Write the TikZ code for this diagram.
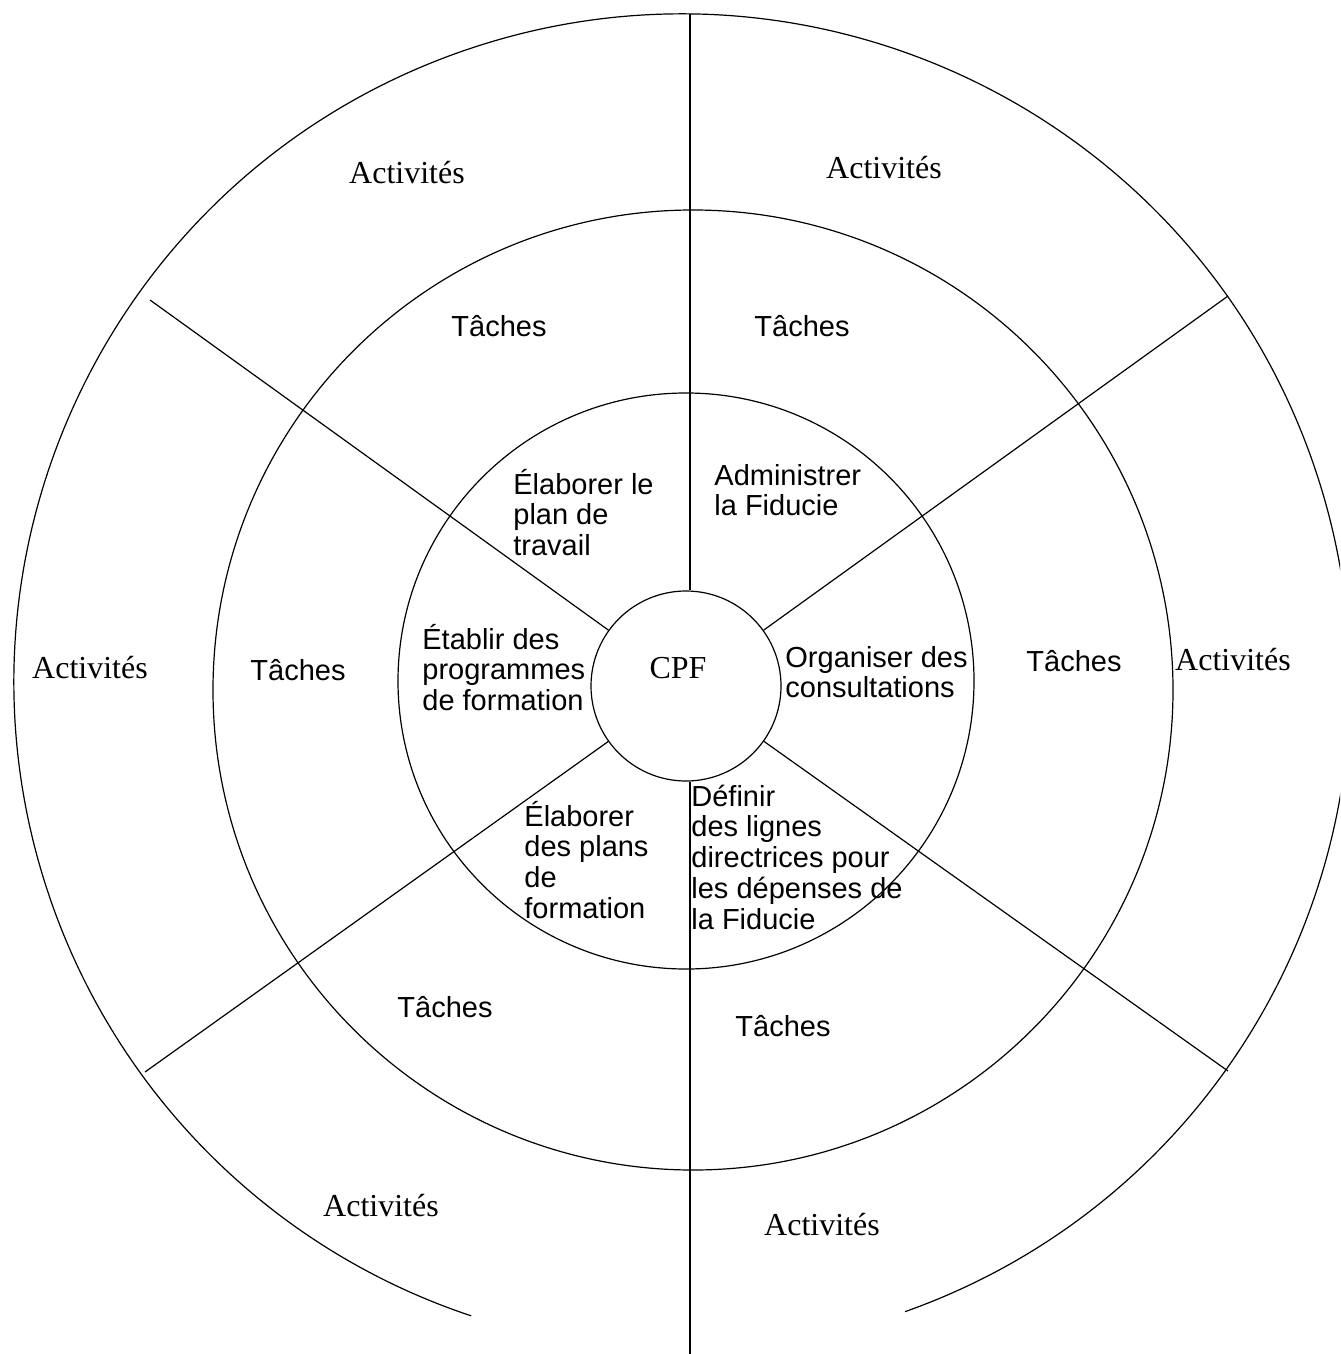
\documentclass[tikz,border=0pt]{standalone}
\usepackage{fontspec}
\setmainfont{Liberation Serif}
\setsansfont{Liberation Sans}
\newcommand{\mlines}[1]{\begin{tabular}[t]{@{}l@{}}#1\end{tabular}}
\begin{document}
\begin{tikzpicture}[x=0.5pt,y=-0.5pt,
  ring/.style={draw, line width=0.6pt},
  spoke/.style={draw, line width=0.6pt},
  act/.style={font=\fontsize{16}{19}\selectfont\rmfamily, inner sep=0pt},
  tache/.style={font=\fontsize{14.5}{15.4}\selectfont\sffamily, inner sep=0pt},
  role/.style={font=\fontsize{14.5}{15.4}\selectfont\sffamily, inner sep=0pt, anchor=base west},
]
\useasboundingbox (0,0) rectangle (1340,1354);
\fill[white] (0,0) rectangle (1340,1354);
\clip (0,0) rectangle (1340,1354);

% rings
\draw[ring] ([shift={(-70.5:334pt)}]682,682) arc[start angle=-70.5, end angle=251.6, radius=334pt];
\draw[ring] (693,690) circle[radius=240pt];
\draw[ring] (686,681) circle[radius=144pt];

% centre
\node[circle, draw, line width=0.6pt, minimum size=95pt, inner sep=0pt] (cpf) at (686,686) {};
\node[act] (cpftxt) at (678,668) {CPF};

% spokes
\coordinate (vtop) at (690,14);
\coordinate (vbot) at (690,1354);
\coordinate (ul) at (150,300);
\coordinate (ur) at (1228,296);
\coordinate (lr) at (1228,1071);
\coordinate (ll) at (145,1072);
\draw[spoke] (vtop) -- (vtop |- cpf.north);
\draw[spoke] (vbot |- cpf.south) -- (vbot);
\draw[spoke] (cpf) -- (ul);
\draw[spoke] (cpf) -- (ur);
\draw[spoke] (cpf) -- (lr);
\draw[spoke] (cpf) -- (ll);

% roles
\node[role] (r1) at (513,494) {\mlines{Élaborer le\\plan de\\travail}};
\node[role] (r2) at (714,485) {\mlines{Administrer\\la Fiducie}};
\node[role] (r3) at (422,649) {\mlines{Établir des\\programmes\\de formation}};
\node[role] (r4) at (785,667) {\mlines{Organiser des\\consultations}};
\node[role] (r5) at (524,826) {\mlines{Élaborer\\des plans\\de\\formation}};
\node[role] (r6) at (691,806) {\mlines{Définir\\des lignes\\directrices pour\\les dépenses de\\la Fiducie}};

% taches
\node[tache] (t1) at (499,326) {Tâches};
\node[tache] (t2) at (802,326) {Tâches};
\node[tache] (t3) at (298,670) {Tâches};
\node[tache] (t4) at (1074,661) {Tâches};
\node[tache] (t5) at (445,1007) {Tâches};
\node[tache] (t6) at (783,1026) {Tâches};

% activites
\node[act] (a1) at (407,173) {Activités};
\node[act] (a2) at (884,168) {Activités};
\node[act] (a3) at (90,668) {Activités};
\node[act] (a4) at (1233,660) {Activités};
\node[act] (a5) at (381,1206) {Activités};
\node[act] (a6) at (822,1225) {Activités};
\end{tikzpicture}
\end{document}
